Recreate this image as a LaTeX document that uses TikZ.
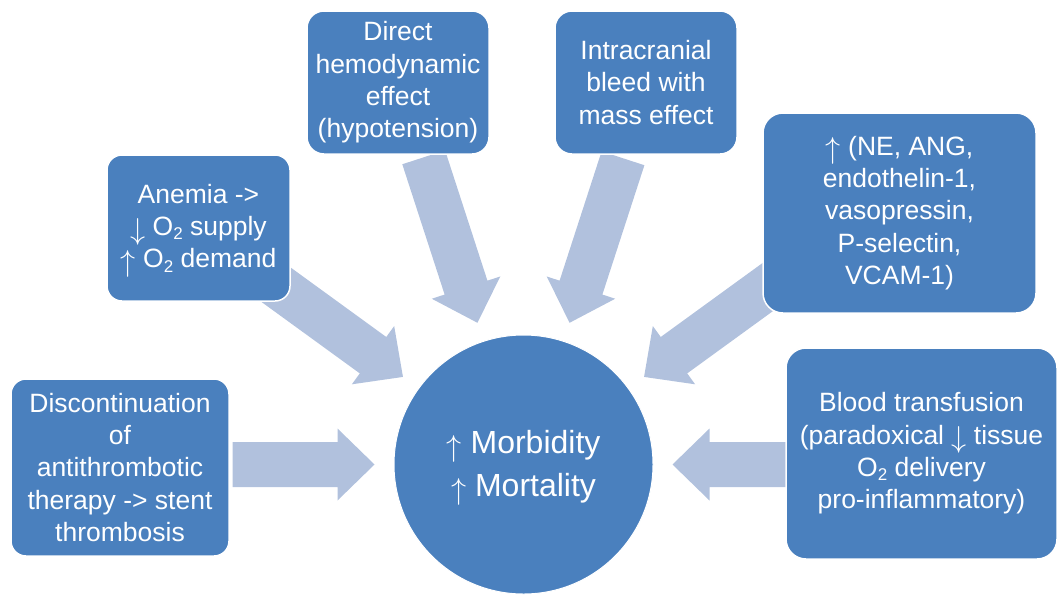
\documentclass[tikz,border=0pt]{standalone}
\usepackage{fontspec}
\usepackage{graphicx}
\setmainfont{Liberation Sans}
\definecolor{boxblue}{HTML}{4A80BE}
\definecolor{arrowblue}{HTML}{B1C1DD}
\newcommand\upar{\smash{\raisebox{-3.5pt}{\resizebox{!}{21pt}{$\uparrow$}}}}
\newcommand\dnar{\smash{\raisebox{-3.5pt}{\resizebox{!}{21pt}{$\downarrow$}}}}
\newcommand\oxy{O\raisebox{-0.3ex}{\fontsize{17}{17}\selectfont 2}}
\tikzset{
  causebox/.style={draw=white, line width=1.5pt, fill=boxblue, text=white,
    align=center, inner sep=0pt, font=\fontsize{26.5}{32.3}\selectfont},
  centerdisc/.style={circle, draw=white, line width=1pt, fill=boxblue, text=white,
    align=center, inner sep=0pt, minimum size=259pt, font=\fontsize{32}{43}\selectfont},
  blockarrow/.style={fill=arrowblue}
}
% #1 angle, #2 start distance from centre
\newcommand\radialarrow[2]{%
  \begin{scope}[shift={(c)}, rotate=#1]
    \fill[blockarrow] (149,0) -- (186,36) -- (186,22.5) -- (#2,22.5)
      -- (#2,-22.5) -- (186,-22.5) -- (186,-36) -- cycle;
  \end{scope}}
\begin{document}
\begin{tikzpicture}[x=1pt,y=1pt]
\useasboundingbox (0,0) rectangle (1059,-595);
\coordinate (c) at (523.5,-464.5);
% arrows (behind the boxes)
\radialarrow{180}{291}
\radialarrow{144}{320}
\radialarrow{108}{323}
\radialarrow{72}{322}
\radialarrow{36}{320}
\radialarrow{0}{300}
% cause boxes
\node[causebox, rounded corners=15pt, minimum width=218pt, minimum height=177pt]
  (b1) at (120,-467.5) {Discontinuation\\of\\antithrombotic\\therapy -> stent\\thrombosis};
\node[causebox, rounded corners=15pt, minimum width=183pt, minimum height=146pt]
  (b2) at (198.5,-228) {Anemia ->\\\dnar{} \oxy{} supply\\\upar{} \oxy{} demand};
\node[causebox, rounded corners=17pt, minimum width=182pt, minimum height=143pt]
  (b3) at (398,-82.5) {Direct\\hemodynamic\\effect\\(hypotension)};
\node[causebox, rounded corners=17pt, minimum width=182pt, minimum height=143pt]
  (b4) at (646,-82.5) {Intracranial\\bleed with\\mass effect};
\node[causebox, rounded corners=20pt, minimum width=273pt, minimum height=200pt]
  (b5) at (899.5,-213) {\upar{} (NE, ANG,\\endothelin-1,\\vasopressin,\\P-selectin,\\VCAM-1)};
\node[causebox, rounded corners=20pt, minimum width=271pt, minimum height=211pt]
  (b6) at (921.5,-453.5) {Blood transfusion\\(paradoxical \dnar{} tissue\\\oxy{} delivery\\pro-inflammatory)};
% centre
\node[centerdisc] (m) at (c) {};
\node[text=white, align=center, inner sep=0pt, font=\fontsize{32}{43}\selectfont]
  (mt) at ([yshift=-2pt]m.center) {\upar{} Morbidity\\\upar{} Mortality};
\end{tikzpicture}
\end{document}
